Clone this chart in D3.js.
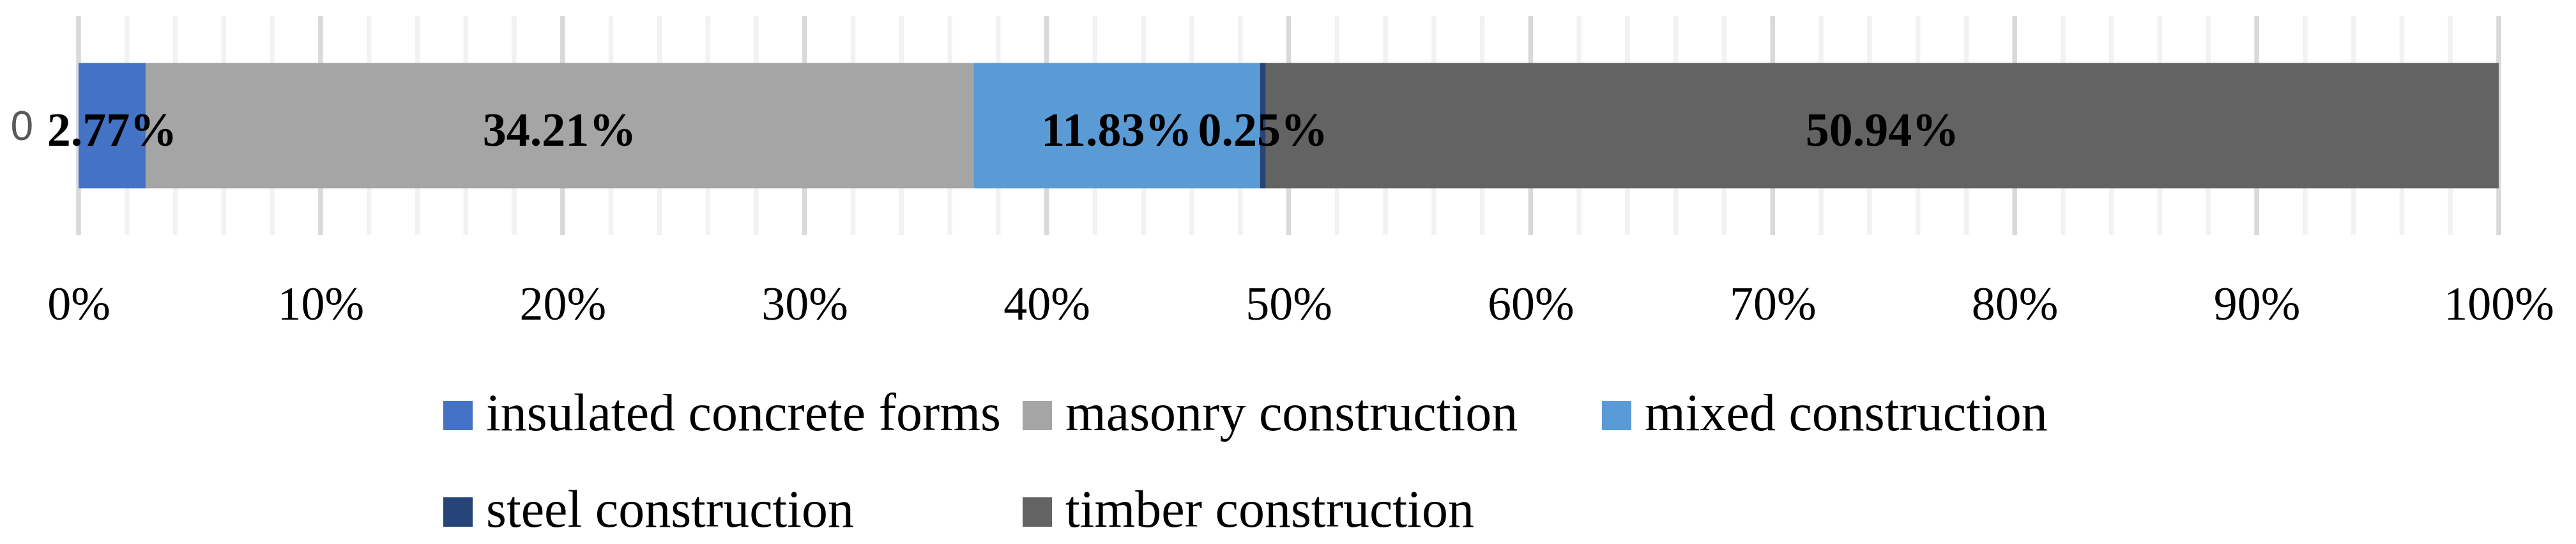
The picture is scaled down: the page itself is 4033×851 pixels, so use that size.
<!DOCTYPE html>
<html>
<head>
<meta charset="utf-8">
<script src="https://cdn.jsdelivr.net/npm/d3@7"></script>
<style>
  html, body { margin: 0; padding: 0; background: #ffffff; }
  svg { display: block; }
</style>
</head>
<body>
<svg id="chart" width="4033" height="851"></svg>
<script>
// ---- data ----
const categories = ["0"];
const seriesNames = ["insulated concrete forms", "masonry construction", "mixed construction", "steel construction", "timber construction"];
const seriesValues = [2.77, 34.21, 11.83, 0.25, 50.94];
const seriesColors = ["#4472C4", "#A5A5A5", "#5B9BD5", "#264478", "#636363"];
const majorTicks = [0, 10, 20, 30, 40, 50, 60, 70, 80, 90, 100];
const minorTicks = d3.range(0, 101, 2);
const tickLabels = majorTicks.map(d => d + "%");

// ---- layout ----
const W = 4033, H = 851;
const plot = { left: 123, right: 3912, top: 25, bottom: 368 };
const serif = "'Liberation Serif', 'Times New Roman', serif";

const svg = d3.select("#chart");
svg.append("rect").attr("width", W).attr("height", H).attr("fill", "#ffffff");

const x = d3.scaleLinear().domain([0, 100]).range([plot.left, plot.right]);
const y = d3.scaleBand().domain(categories).range([plot.top, plot.bottom])
  .paddingInner(0).paddingOuter(0.375);

// gridlines
svg.append("g").selectAll("line").data(minorTicks).join("line")
  .attr("x1", d => x(d)).attr("x2", d => x(d))
  .attr("y1", plot.top).attr("y2", plot.bottom)
  .attr("stroke", d => (d % 10 === 0 ? "#D9D9D9" : "#F2F2F2"))
  .attr("stroke-width", 7.5);

// stacked data
const row = {};
seriesNames.forEach((n, i) => row[n] = seriesValues[i]);
const stacked = d3.stack().keys(seriesNames)([Object.assign({ cat: categories[0] }, row)]);

const layers = svg.append("g").selectAll("g").data(stacked).join("g")
  .attr("fill", (d, i) => seriesColors[i]);
layers.selectAll("rect").data(d => d).join("rect")
  .attr("x", d => x(d[0]))
  .attr("width", d => x(d[1]) - x(d[0]))
  .attr("y", d => y(d.data.cat))
  .attr("height", y.bandwidth());

// data labels
const labels = svg.append("g");
stacked.forEach((layer, i) => {
  layer.forEach(d => {
    labels.append("text")
      .attr("x", x((d[0] + d[1]) / 2))
      .attr("y", y(d.data.cat) + y.bandwidth() / 2 + 31)
      .attr("text-anchor", "middle")
      .attr("font-family", serif)
      .attr("font-weight", "bold")
      .attr("font-size", 74)
      .attr("fill", "#000000")
      .text(seriesValues[i].toFixed(2) + "%");
  });
});

// category axis label
svg.append("g").selectAll("text").data(categories).join("text")
  .attr("x", 52)
  .attr("y", d => y(d) + y.bandwidth() / 2 + 22)
  .attr("text-anchor", "end")
  .attr("font-family", "'Liberation Sans', Arial, sans-serif")
  .attr("font-size", 64)
  .attr("fill", "#595959")
  .text(d => d);

// x axis
const xAxis = d3.axisBottom(x).tickValues(majorTicks)
  .tickFormat((d, i) => tickLabels[i]).tickSize(0).tickPadding(0);
const gx = svg.append("g").attr("transform", "translate(0,500)").call(xAxis);
gx.select(".domain").remove();
gx.selectAll("text")
  .attr("y", 0).attr("dy", 0)
  .attr("font-family", serif)
  .attr("font-size", 74)
  .attr("fill", "#000000");

// legend
const legend = svg.append("g");
const colW = 907, rowH = 151, legX = 694, legBase = 673, sw = 46;
seriesNames.forEach((n, i) => {
  const c = i % 3, r = Math.floor(i / 3);
  const gx0 = legX + c * colW, base = legBase + r * rowH;
  legend.append("rect")
    .attr("x", gx0).attr("y", base - sw)
    .attr("width", sw).attr("height", sw)
    .attr("fill", seriesColors[i]);
  legend.append("text")
    .attr("x", gx0 + 67).attr("y", base)
    .attr("font-family", serif)
    .attr("font-size", 82)
    .attr("fill", "#000000")
    .text(n);
});
</script>
</body>
</html>
